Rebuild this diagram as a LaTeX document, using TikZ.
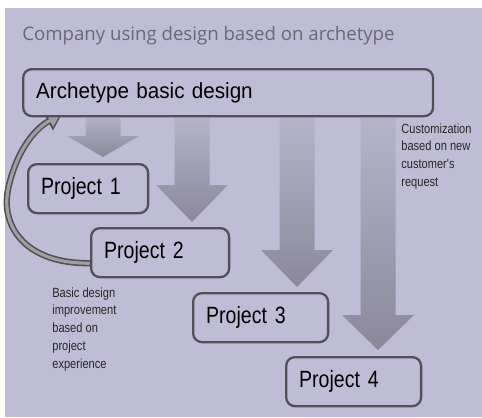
\documentclass[tikz,border=0pt]{standalone}
\usepackage{fontspec}
\setmainfont{Liberation Sans}
\newfontfamily\titlefont{Open Sans}
\newfontfamily\narrowfont[FakeStretch=0.83]{Liberation Sans}
\newfontfamily\midfont[FakeStretch=0.94]{Liberation Sans}
\usetikzlibrary{arrows.meta}

\definecolor{bgpurple}{RGB}{191,189,213}
\definecolor{boxline}{RGB}{80,80,86}
\definecolor{arrowtop}{RGB}{182,180,202}
\definecolor{arrowbot}{RGB}{138,136,154}
\definecolor{titlegray}{RGB}{105,105,115}

\tikzset{
  projbox/.style={draw=boxline, line width=1.3pt, rounded corners=5pt, fill=bgpurple,
    anchor=north west, inner xsep=0.26cm, inner ysep=0pt, align=left,
    minimum height=0.98cm, font=\narrowfont\fontsize{13.4}{15}\selectfont},
  note/.style={anchor=north west, align=left, inner sep=0pt,
    font=\narrowfont\fontsize{7.6}{10.2}\selectfont, text=black!85},
  blockarrow/.style={top color=arrowtop, bottom color=arrowbot, draw=none},
}

\begin{document}
\begin{tikzpicture}[x=0.02cm, y=-0.02cm]
\useasboundingbox (0,0) rectangle (482,417);
\fill[white] (0,0) rectangle (482,417);
\fill[bgpurple] (5,8) rectangle (482,417);

\node[anchor=base west, inner sep=0pt, text=titlegray,
  font=\titlefont\fontsize{10.6}{13}\selectfont] (title) at (22,40)
  {Company using design based on archetype};

% block arrows: centre, head base, tip
\foreach \cx/\hb/\tip in {103/136/157, 192/185/222, 297/250/287, 378/315/350}
  \shade[blockarrow] (\cx-17.5,115) -- (\cx+17.5,115) -- (\cx+17.5,\hb)
    -- (\cx+36,\hb) -- (\cx,\tip) -- (\cx-36,\hb) -- (\cx-17.5,\hb) -- cycle;

% feedback arrow
\draw[boxline, line width=3.6pt, -{Triangle[length=9pt,width=11pt]}]
  (95,263) .. controls (28,266) and (-2,228) .. (9,185)
  .. controls (18,148) and (36,128) .. (62,114);
\draw[gray!75, line width=1.8pt, shorten >=1.4pt, -{Triangle[length=6.5pt,width=7.5pt]}]
  (95,263) .. controls (28,266) and (-2,228) .. (9,185)
  .. controls (18,148) and (36,128) .. (62,114);

\node[projbox, text width=7.68cm, minimum height=0.94cm,
  font=\midfont\fontsize{12.5}{15}\selectfont] (archetype) at (22,68)
  {Archetype basic design};

\node[projbox, text width=1.88cm] (proj1) at (27,163) {Project 1};
\node[projbox, text width=2.24cm] (proj2) at (90,227) {Project 2};
\node[projbox, text width=2.18cm] (proj3) at (192,292) {Project 3};
\node[projbox, text width=2.18cm] (proj4) at (285,356) {Project 4};

\node[note] (improve) at (52,287)
  {Basic design\\improvement\\based on\\project\\experience};
\node[note] (custom) at (401,123)
  {Customization\\based on new\\customer's\\request};
\end{tikzpicture}
\end{document}
